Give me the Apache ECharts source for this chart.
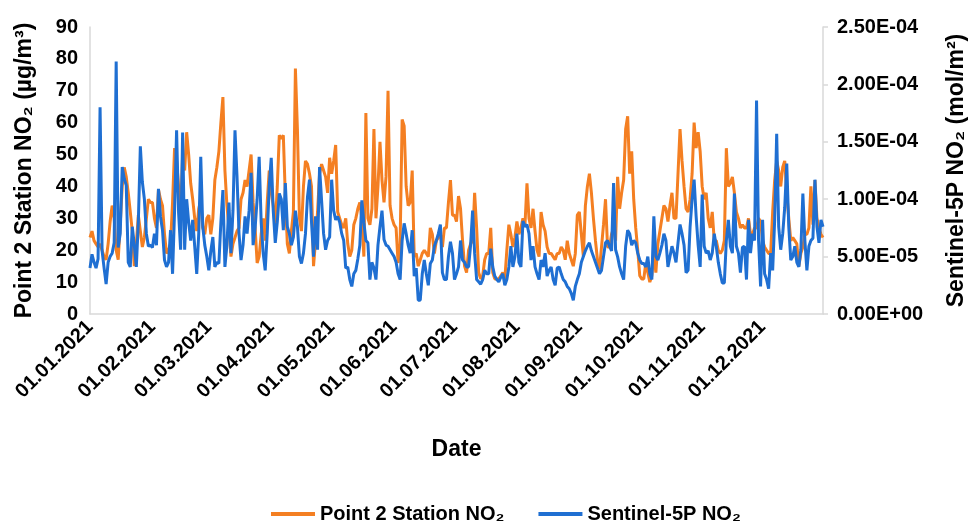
<!DOCTYPE html>
<html>
<head>
<meta charset="utf-8">
<script src="https://cdn.jsdelivr.net/npm/echarts@6/dist/echarts.min.js"></script>
<style>
  html, body { margin: 0; padding: 0; background: #fff; }
  #chart { width: 970px; height: 524px; }
</style>
</head>
<body>
<div id="chart"></div>
<script>
// Point 2 Station NO2 (µg/m³), daily, by month
const stationJan = [24,26,23,22,21,22,20,18,17,22,29,34,30,20,17,28,40,46,43,38,32,26,15,22,31,26,21,24,30,36,35];
const stationFeb = [35,30,27,39,36,34,25,19,20,22,35,52,48,40,30,50,45,57,50,41,36,30,26,33,36,27,25,30];
const stationMar = [31,25,30,42,46,51,60,68,45,34,27,18,22,24,26,27,36,38,42,40,45,50,35,27,16,18,25,30,23,35,45];
const stationApr = [38,34,27,40,56,55,56,37,22,19,26,32,77,58,30,26,40,48,47,44,40,15,23,32,44,47,45,43,38,49];
const stationMay = [44,48,53,32,30,28,27,30,22,18,20,28,30,33,35,30,18,63,30,28,33,58,30,40,54,42,35,43,70,34,30];
const stationJun = [28,27,16,22,61,59,40,34,35,45,18,19,15,17,19,20,19,18,27,25,19,23,24,25,21,27,27,35,42,31];
const stationJul = [31,29,37,33,23,15,13,20,22,23,38,27,13,11,12,17,19,19,27,13,11,11,11,12,13,11,20,28,25,21,24];
const stationAug = [29,25,27,30,28,41,30,27,33,26,20,18,32,28,26,21,19,19,18,17,19,19,21,20,17,23,19,17,15,19,31];
const stationSep = [32,25,18,34,40,44,38,30,23,17,14,21,28,36,21,21,25,27,23,43,33,38,42,58,62,44,51,36,27,20];
const stationOct = [12,11,11,16,13,10,12,19,13,22,26,30,34,33,29,34,38,30,30,44,58,48,40,33,32,36,44,60,52,57,51];
const stationNov = [40,36,38,30,27,32,23,23,20,19,20,23,52,40,41,43,38,32,30,27,28,27,27,30,25,25,27,27,30,29];
const stationDec = [23,21,20,19,19,32,42,48,45,40,46,48,38,30,23,24,23,22,15,19,21,25,25,27,40,28,42,30,27,25,24];

// Sentinel-5P NO2, daily, in units of 1E-06 mol/m²
const s5pJan = [40,52,45,40,48,180,55,40,26,45,50,53,62,220,58,70,128,118,112,45,41,76,60,41,80,146,115,100,70,59,60];
const s5pFeb = [58,70,60,109,85,73,47,41,45,73,35,90,160,88,56,158,56,100,80,64,82,59,35,70,137,76,60,50];
const s5pMar = [38,55,67,41,45,44,80,108,41,60,97,53,90,160,120,70,47,60,85,70,90,123,60,75,100,137,80,53,38,70,111];
const s5pApr = [136,90,62,80,105,100,73,114,76,70,60,67,90,76,50,44,53,70,102,117,80,50,85,56,128,99,70,56,64,67];
const s5pMay = [117,90,82,85,80,70,64,40,41,30,24,35,38,48,60,99,80,64,62,30,45,40,30,60,76,90,65,60,59,56,53];
const s5pJun = [50,45,35,30,64,79,70,60,53,73,33,40,12,12,35,47,35,25,44,47,59,64,70,78,36,30,30,50,63,53];
const s5pJul = [30,35,41,64,47,45,41,41,60,90,53,30,28,26,30,38,35,35,57,41,33,30,28,32,35,25,30,41,59,41,50];
const s5pAug = [70,45,41,81,76,78,70,47,59,41,35,30,47,41,53,33,38,41,30,25,40,41,35,30,28,24,22,18,12,24,30];
const s5pSep = [35,45,50,55,59,62,55,50,45,40,35,38,50,62,64,59,55,114,56,50,41,35,30,59,73,70,60,64,62,53];
const s5pOct = [47,44,44,41,50,35,30,85,50,47,53,60,70,64,41,50,59,53,45,62,78,70,60,36,38,76,100,117,85,60,41];
const s5pNov = [104,59,53,55,47,53,70,59,45,35,27,27,64,82,59,53,105,59,53,36,58,59,30,82,53,70,64,186,64,24];
const s5pDec = [82,35,30,22,53,38,82,157,76,56,70,93,131,76,47,50,59,45,41,56,105,64,38,59,64,66,117,76,62,82,76];

const seriesNames = ['Point 2 Station NO\u2082', 'Sentinel-5P NO\u2082'];
const leftTitle = 'Point 2 Station NO\u2082 (\u00b5g/m\u00b3)';
const rightTitle = 'Sentinel-5P NO\u2082 (mol/m\u00b2)';
const xTitle = 'Date';

// categories: every day of 2021 as dd.mm.yyyy
const dates = [];
for (let t = Date.UTC(2021, 0, 1); t <= Date.UTC(2021, 11, 31); t += 86400000) {
  const d = new Date(t);
  const dd = String(d.getUTCDate()).padStart(2, '0');
  const mm = String(d.getUTCMonth() + 1).padStart(2, '0');
  dates.push(dd + '.' + mm + '.' + d.getUTCFullYear());
}

const station = [].concat(stationJan, stationFeb, stationMar, stationApr, stationMay, stationJun,
  stationJul, stationAug, stationSep, stationOct, stationNov, stationDec);
const s5p = [].concat(s5pJan, s5pFeb, s5pMar, s5pApr, s5pMay, s5pJun,
  s5pJul, s5pAug, s5pSep, s5pOct, s5pNov, s5pDec).map(v => v * 1e-6);

const FONT = '"Liberation Sans", "DejaVu Sans", sans-serif';
const ORANGE = '#f47f22';
const BLUE = '#1f6fd2';
const AXIS_GREY = '#d9d9d9';

function sci(v) {
  if (Math.abs(v) < 1e-12) return '0.00E+00';
  let e = Math.floor(Math.log10(Math.abs(v)));
  let m = v / Math.pow(10, e);
  if (m.toFixed(2) === '10.00') { m = 1; e += 1; }
  return m.toFixed(2) + 'E' + (e < 0 ? '-' : '+') + String(Math.abs(e)).padStart(2, '0');
}

const labelStyle = { fontFamily: FONT, fontSize: 20, fontWeight: 'bold', color: '#000' };
const titleStyle = { fontFamily: FONT, fontSize: 23, fontWeight: 'bold', color: '#000' };

const chart = echarts.init(document.getElementById('chart'), null, { renderer: 'canvas' });
chart.setOption({
  animation: false,
  backgroundColor: '#fff',
  grid: { left: 90, right: 147, top: 27, bottom: 210, containLabel: false, outerBoundsMode: 'none' },
  legend: {
    data: seriesNames,
    left: 266,
    top: 499,
    icon: 'rect',
    itemWidth: 44,
    itemHeight: 4,
    itemGap: 34,
    textStyle: { fontFamily: FONT, fontSize: 20, fontWeight: 'bold', color: '#000' }
  },
  xAxis: {
    type: 'category',
    data: dates,
    boundaryGap: false,
    axisLine: { show: true, lineStyle: { color: AXIS_GREY, width: 1.5 } },
    axisTick: { show: false },
    splitLine: { show: false },
    axisLabel: Object.assign({
      rotate: 45,
      margin: 10,
      interval: (i, v) => v.startsWith('01.')
    }, labelStyle),
    name: xTitle,
    nameLocation: 'middle',
    nameGap: 124,
    nameTextStyle: titleStyle
  },
  yAxis: [
    {
      type: 'value', min: 0, max: 90, interval: 10,
      axisLine: { show: true, lineStyle: { color: AXIS_GREY, width: 1.5 } },
      axisTick: { show: false },
      splitLine: { show: false },
      axisLabel: Object.assign({ margin: 12 }, labelStyle),
      name: leftTitle, nameLocation: 'middle', nameGap: 54,
      nameTextStyle: titleStyle
    },
    {
      type: 'value', position: 'right', min: 0, max: 2.5e-4, interval: 5e-5,
      axisLine: { show: true, lineStyle: { color: AXIS_GREY, width: 1.5 } },
      axisTick: { show: true, length: 5, lineStyle: { color: AXIS_GREY, width: 1.5 } },
      splitLine: { show: false },
      axisLabel: Object.assign({ margin: 14, formatter: sci }, labelStyle),
      name: rightTitle, nameLocation: 'middle', nameGap: 122,
      nameTextStyle: titleStyle
    }
  ],
  series: [
    {
      name: seriesNames[0], type: 'line', yAxisIndex: 0, data: station,
      showSymbol: false, symbol: 'none',
      lineStyle: { color: ORANGE, width: 3 }, itemStyle: { color: ORANGE }
    },
    {
      name: seriesNames[1], type: 'line', yAxisIndex: 1, data: s5p,
      showSymbol: false, symbol: 'none',
      lineStyle: { color: BLUE, width: 3 }, itemStyle: { color: BLUE }
    }
  ]
});
</script>
</body>
</html>
